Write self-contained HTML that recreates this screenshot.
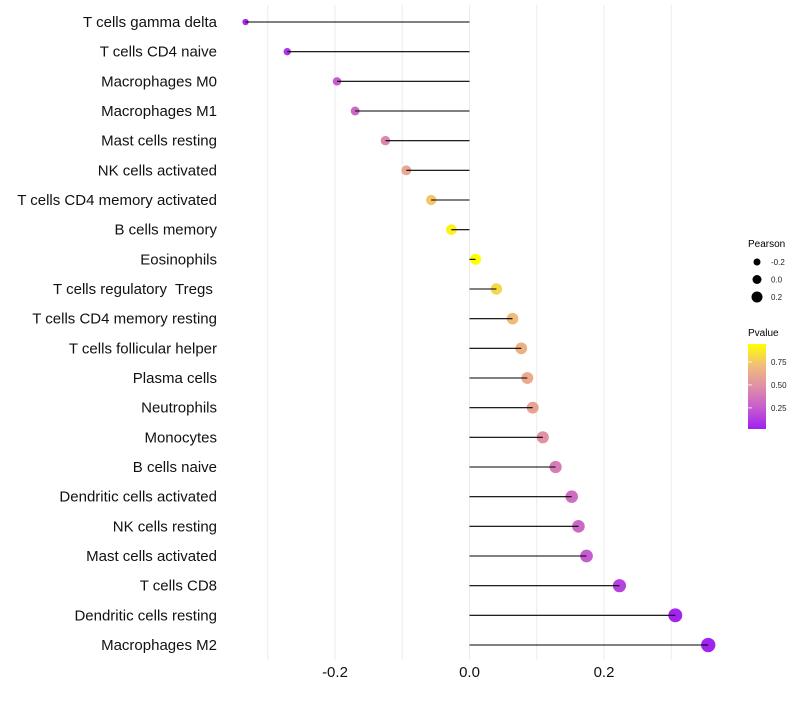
<!DOCTYPE html>
<html><head><meta charset="utf-8">
<style>
body{margin:0;background:#fff;}
svg text{font-family:"Liberation Sans",sans-serif;white-space:pre;}
</style></head>
<body>
<svg id="chart" width="800" height="700">
<defs>
<linearGradient id="pgrad" x1="0" y1="1" x2="0" y2="0">
<stop offset="0" stop-color="#a020f0"/>
<stop offset="0.25" stop-color="#c65ccf"/>
<stop offset="0.5" stop-color="#df8fa8"/>
<stop offset="0.75" stop-color="#f0be78"/>
<stop offset="1" stop-color="#ffff00"/>
</linearGradient>
</defs>
<g id="grid"></g><g id="marks"></g><g id="labels"></g>
<g id="legend">
<text x="748" y="247" font-size="10">Pearson</text>
<g id="sizeLegend"></g>
<text x="748" y="336" font-size="10">Pvalue</text>
<rect x="748" y="344" width="18" height="85" fill="url(#pgrad)"/>
<g id="colorLegend"></g>
</g>
</svg>
<script>
const categories=["T cells gamma delta","T cells CD4 naive","Macrophages M0","Macrophages M1","Mast cells resting","NK cells activated","T cells CD4 memory activated","B cells memory","Eosinophils","T cells regulatory  Tregs ","T cells CD4 memory resting","T cells follicular helper","Plasma cells","Neutrophils","Monocytes","B cells naive","Dendritic cells activated","NK cells resting","Mast cells activated","T cells CD8","Dendritic cells resting","Macrophages M2"];
const pearson=[-0.333,-0.271,-0.197,-0.170,-0.125,-0.094,-0.057,-0.027,0.009,0.040,0.064,0.077,0.086,0.094,0.109,0.128,0.152,0.162,0.174,0.223,0.306,0.355];
const pvalues=[0.05,0.1,0.25,0.3,0.45,0.6,0.75,0.9,0.95,0.8,0.7,0.65,0.62,0.58,0.5,0.4,0.33,0.3,0.25,0.15,0.04,0.03];
const xTicks=[-0.2,0.0,0.2];
const xTickLabels=["-0.2","0.0","0.2"];
const gridVals=[-0.3,-0.2,-0.1,0,0.1,0.2,0.3];
const sizeLegendVals=[-0.2,0.0,0.2];
const colorLegendVals=[0.25,0.5,0.75];

const NS="http://www.w3.org/2000/svg";
const xs=v=>469.5+v*672.5;
const ys=i=>22+i*(623/21);
const rs=p=>Math.sqrt(Math.max(4,30+60*p));
const rl=p=>4.5+5*p;
const stops=[[0,[160,32,240]],[0.25,[198,92,207]],[0.5,[223,143,168]],[0.75,[240,190,120]],[1,[255,255,0]]];
const pmin=0.02,pmax=0.946;
function col(p){let t=(p-pmin)/(pmax-pmin);t=Math.max(0,Math.min(1,t));
 for(let k=1;k<stops.length;k++){if(t<=stops[k][0]){const a=stops[k-1],b=stops[k];const f=(t-a[0])/(b[0]-a[0]);
 const c=a[1].map((v,j)=>Math.round(v+(b[1][j]-v)*f));return `rgb(${c})`;}}return "rgb(255,255,0)";}
function mk(tag,attrs,parent){const e=document.createElementNS(NS,tag);for(const k in attrs)e.setAttribute(k,attrs[k]);parent.appendChild(e);return e;}
const grid=document.getElementById('grid'),marks=document.getElementById('marks'),labels=document.getElementById('labels');
gridVals.forEach(v=>{const l=mk('line',{x1:xs(v),x2:xs(v),y1:5,y2:660,stroke:'#ebebeb','stroke-width':1},grid);
 
 });
xTicks.forEach((v,i)=>{const t=mk('text',{x:xs(v),y:677,'font-size':15,'text-anchor':'middle',fill:'#111'},labels);t.textContent=xTickLabels[i];
 
 });
categories.forEach((c,i)=>{const y=ys(i);
 const t=mk('text',{x:217,y:y+5,'font-size':15,'text-anchor':'end',fill:'#111'},labels);t.textContent=c;
 
 
 const d=mk('circle',{cx:xs(pearson[i]),cy:y,r:rs(pearson[i]),fill:col(pvalues[i])},marks);
 
 
 const l=mk('line',{x1:xs(0),x2:xs(pearson[i]),y1:y,y2:y,stroke:'#000','stroke-width':1.1},marks);
 
 
});
const sl=document.getElementById('sizeLegend');
sizeLegendVals.forEach((v,i)=>{const y=262+i*17.5;
 const c=mk('circle',{cx:757,cy:y,r:rl(v),fill:'#000'},sl);
 
 
 const t=mk('text',{x:771,y:y+3,'font-size':8,fill:'#222'},sl);t.textContent=v.toFixed(1);
 
 });
const cl=document.getElementById('colorLegend');
colorLegendVals.forEach(v=>{const y=429-(v-pmin)/(pmax-pmin)*85;
 const t=mk('text',{x:771,y:y+3,'font-size':8,fill:'#222'},cl);t.textContent=v.toFixed(2);
 
 
 const k=mk('line',{x1:748,x2:752,y1:y,y2:y,stroke:'#fff','stroke-width':0.8},cl);
 
 });
</script>
</body></html>
